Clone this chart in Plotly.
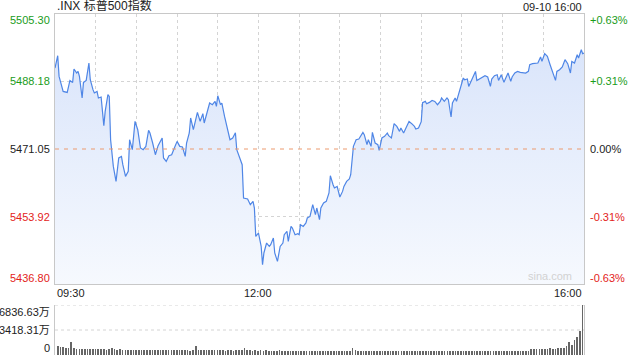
import plotly.graph_objects as go

# ---- data ----
minutes = [0,2,3,6,9,11,13,14,16,17,18,20,21,23,25,26,28,29,31,32,34,36,37,39,40,41,43,45,47,49,
           50,52,54,55,57,59,61,63,65,67,69,70,72,74,76,79,80,82,84,86,88,90,92,94,96,97,99,100,102,103,
           105,107,109,110,112,114,116,118,119,120,122,123,125,127,129,
           131,133,134,136,138,139,142,144,146,147,148,150,152,153,154,156,158,159,161,162,
           164,166,168,169,171,172,174,175,177,179,180,181,183,185,186,188,190,192,193,195,
           196,198,200,202,203,205,206,208,210,212,213,215,217,218,220,222,224,227,228,230,
           231,233,234,236,238,239,241,243,245,246,248,250,252,254,255,257,259,261,263,265,
           266,268,270,
           271,273,274,276,278,280,282,284,285,287,289,290,292,293,295,296,298,299,301,302,
           304,305,307,308,310,311,313,315,317,319,321,322,324,326,327,329,331,332,334,336,
           337,339,341,343,345,347,349,350,352,354,356,358,359,361,363,365,367,369,370,372,
           374,376,378,380,381,383,385,386,388,389,390]

prices = [5491.60,5494.72,5489.47,5485.66,5485.41,5488.45,5487.95,5491.35,5490.33,5490.74,
          5489.47,5483.99,5487.95,5488.45,5492.87,5488.63,5486.10,5485.26,5485.66,5483.99,
          5484.24,5476.96,5480.59,5484.83,5484.40,5473.41,5466.64,5462.83,5468.77,5469.17,
          5467.07,5464.10,5465.37,5473.41,5470.87,5478.05,5475.95,5471.30,5470.87,5471.71,
          5475.77,5475.11,5472.57,5469.60,5471.89,5473.84,5468.77,5467.90,5469.35,5469.60,
          5471.30,5472.98,5471.71,5471.56,5469.17,5472.57,5475.11,5478.92,5475.95,5477.22,
          5480.34,5478.05,5480.01,5477.65,5480.18,5482.72,5482.29,5483.13,5481.86,5484.57,
          5482.29,5482.72,5479.32,5475.95,5473.41,
          5473.84,5475.19,5470.87,5469.17,5467.07,5458.62,5458.37,5456.92,5457.76,5456.08,
          5448.88,5449.74,5446.34,5441.70,5444.67,5447.20,5446.34,5446.77,5448.47,5444.67,
          5442.54,5446.34,5447.20,5449.31,5450.15,5447.61,5451.41,5451.01,5449.31,5449.56,
          5449.31,5451.85,5451.41,5452.28,5453.55,5453.95,5456.92,5454.38,5456.08,5453.11,
          5456.08,5457.35,5457.76,5459.89,5464.28,5461.99,5461.16,5461.56,5458.87,5460.29,
          5461.56,5462.83,5463.44,5464.53,5471.71,5473.41,5473.59,5475.26,5474.68,5472.14,
          5473.41,5471.71,5475.26,5472.57,5472.14,5470.70,5473.84,5474.25,5475.11,5474.42,
          5473.84,5477.47,5476.78,5475.52,5476.38,5475.11,5476.78,5478.05,5477.47,5476.78,
          5476.12,5476.38,5477.98,
          5482.80,5483.13,5482.54,5482.87,5483.38,5483.13,5482.29,5483.13,5483.99,5483.13,
          5483.99,5483.56,5479.17,5482.72,5483.99,5483.13,5485.66,5486.27,5489.06,5488.63,
          5488.81,5486.93,5488.45,5489.06,5490.74,5488.45,5488.81,5489.32,5489.65,5489.32,
          5486.93,5488.81,5489.65,5489.90,5488.45,5489.90,5487.95,5488.81,5490.33,5488.20,
          5489.32,5490.33,5490.74,5490.48,5490.33,5490.33,5490.74,5492.44,5492.69,5492.69,
          5492.87,5494.39,5493.27,5495.23,5494.54,5492.44,5490.33,5488.45,5490.74,5491.17,
          5491.85,5493.71,5492.69,5490.33,5493.27,5492.87,5494.97,5494.14,5496.24,5495.23,
          5495.41]

vol_minutes = list(range(2, 391, 2))
volumes = [1250,1150,1080,1000,960,1780,900,850,880,820,860,800,790,830,780,760,800,770,740,790,
           1000,820,720,760,700,690,740,680,660,700,
           650,690,640,700,660,630,680,650,700,640,620,660,700,640,650,690,630,660,640,610,
           680,1230,650,620,660,640,690,650,620,640,
           640,660,610,650,620,600,640,620,640,900,650,620,600,640,610,650,590,620,600,580,
           610,590,630,600,580,560,600,590,570,610,
           580,560,600,570,550,590,560,600,580,560,590,550,600,580,570,600,560,590,560,1000,
           620,590,560,600,580,560,610,570,590,560,
           570,550,590,560,540,580,560,530,570,550,590,560,540,580,550,570,540,560,590,550,
           530,570,560,540,580,550,560,590,540,570,
           560,540,580,550,530,570,550,560,540,580,550,560,530,570,550,560,590,540,570,600,
           580,560,600,570,590,760,820,780,850,800,
           870,820,900,850,880,950,900,1000,1200,1730,1300,2000,2500,3320,6836.63]

prev_close = 5471.05
price_ticks = [5505.30, 5488.18, 5471.05, 5453.92, 5436.80]
pct_labels = ["+0.63%", "+0.31%", "0.00%", "-0.31%", "-0.63%"]
vol_ticks = [6836.63, 3418.31, 0]
vol_labels = ["6836.63万", "3418.31万", "0"]
time_ticks = [0, 150, 390]
time_labels = ["09:30", "12:00", "16:00"]
grid_minutes = [30, 60, 90, 120, 150, 180, 210, 240, 270, 300, 330, 360]
title_text = ".INX 标普500指数"
stamp_text = "09-10 16:00"

assert len(minutes) == len(prices)
assert len(vol_minutes) == len(volumes)

# ---- styling ----
FONT = "Liberation Sans, Arial, Noto Sans CJK SC, sans-serif"
GREEN = "#1a9c1a"
RED = "#e3231b"
DARK = "#222222"
GRID = "#d4d4d4"
label_colors = [GREEN, GREEN, DARK, RED, RED]
label_shift = [-6, 0, 0, 0, 6]
vol_shift = [-7, 0, 7]

fig = go.Figure()

fig.add_trace(go.Scatter(
    x=minutes, y=prices, mode="lines",
    line=dict(color="#4f86e6", width=1.2),
    fill="tozeroy",
    fillgradient=dict(type="vertical", start=price_ticks[-1], stop=price_ticks[0],
                      colorscale=[[0, "rgba(246,249,254,1)"], [1, "rgba(214,226,250,1)"]]),
    hoverinfo="skip", showlegend=False, xaxis="x", yaxis="y"))

fig.add_trace(go.Bar(
    x=vol_minutes, y=volumes, width=1.2, marker=dict(color="#666666", line=dict(width=0)),
    hoverinfo="skip", showlegend=False, xaxis="x2", yaxis="y2"))

main_dom = [71 / 341, 1.0]
vol_dom = [0.0, 50 / 341]

fig.update_layout(
    width=640, height=360,
    margin=dict(l=55, r=56, t=14, b=5),
    paper_bgcolor="white", plot_bgcolor="white",
    font=dict(family=FONT, size=11, color=DARK),
    bargap=0,
    hovermode=False,
    xaxis=dict(domain=[0, 1], range=[0, 390], anchor="y",
               tickvals=grid_minutes, showticklabels=False, ticks="",
               showgrid=True, gridcolor=GRID, griddash="dot", gridwidth=1,
               showline=True, linecolor="#c8c8c8", linewidth=1, mirror=True,
               zeroline=False, fixedrange=True),
    yaxis=dict(domain=main_dom, range=[price_ticks[-1], price_ticks[0]], anchor="x",
               tickvals=[price_ticks[1], price_ticks[3]], showticklabels=False, ticks="",
               showgrid=True, gridcolor=GRID, griddash="dot", gridwidth=1,
               showline=True, linecolor="#c8c8c8", linewidth=1, mirror=True,
               zeroline=False, fixedrange=True),
    xaxis2=dict(domain=[0, 1], range=[0, 391], anchor="y2",
                showticklabels=False, ticks="", showgrid=False,
                showline=False, zeroline=False, fixedrange=True),
    yaxis2=dict(domain=vol_dom, range=[0, vol_ticks[0]], anchor="x2",
                showticklabels=False, ticks="", showgrid=False,
                showline=True, linecolor="#c8c8c8", linewidth=1, mirror=True,
                zeroline=False, fixedrange=True),
)

shapes = [
    dict(type="line", xref="x domain", yref="y", x0=0, x1=1, y0=prev_close, y1=prev_close,
         line=dict(color="#ec9a6e", width=1, dash="4px,5px"), layer="above"),
]
for v in vol_ticks[:2]:
    shapes.append(dict(type="line", xref="x2 domain", yref="y2", x0=0, x1=1, y0=v, y1=v,
                       line=dict(color=GRID, width=1, dash="dot"), layer="below"))
fig.update_layout(shapes=shapes)

ann = []
for v, c, s, p in zip(price_ticks, label_colors, label_shift, pct_labels):
    ann.append(dict(xref="paper", yref="y", x=0, y=v, text=f"{v:.2f}", showarrow=False,
                    xanchor="right", yanchor="middle", xshift=-3, yshift=s,
                    font=dict(size=11, color=c, family=FONT)))
    ann.append(dict(xref="paper", yref="y", x=1, y=v, text=p, showarrow=False,
                    xanchor="left", yanchor="middle", xshift=4, yshift=s,
                    font=dict(size=11, color=c, family=FONT)))
for v, t, s in zip(vol_ticks, vol_labels, vol_shift):
    ann.append(dict(xref="paper", yref="y2", x=0, y=v, text=t, showarrow=False,
                    xanchor="right", yanchor="middle", xshift=-3, yshift=s,
                    font=dict(size=11, color=DARK, family=FONT)))
anchors = ["left", "center", "right"]
for m, t, a in zip(time_ticks, time_labels, anchors):
    ann.append(dict(xref="x", yref="paper", x=m, y=main_dom[0], text=t, showarrow=False,
                    xanchor=a, yanchor="top", yshift=-1,
                    font=dict(size=11, color=DARK, family=FONT)))
ann.append(dict(xref="paper", yref="paper", x=0, y=1, text=title_text, showarrow=False,
                xanchor="left", yanchor="bottom", yshift=-1,
                font=dict(size=12, color=DARK, family=FONT)))
ann.append(dict(xref="paper", yref="paper", x=1, y=1, text=stamp_text, showarrow=False,
                xanchor="right", yanchor="bottom", yshift=-1,
                font=dict(size=11, color=DARK, family=FONT)))
ann.append(dict(xref="paper", yref="paper", x=1, y=main_dom[0], text="sina.com", showarrow=False,
                xanchor="right", yanchor="bottom", xshift=-10, yshift=0,
                font=dict(size=11, color="#d2d2d2", family=FONT)))
fig.update_layout(annotations=ann)

fig.write_html("out.html",
               config={"displayModeBar": False, "staticPlot": True},
               post_script="document.body.style.margin='0';document.body.style.overflow='hidden';")
